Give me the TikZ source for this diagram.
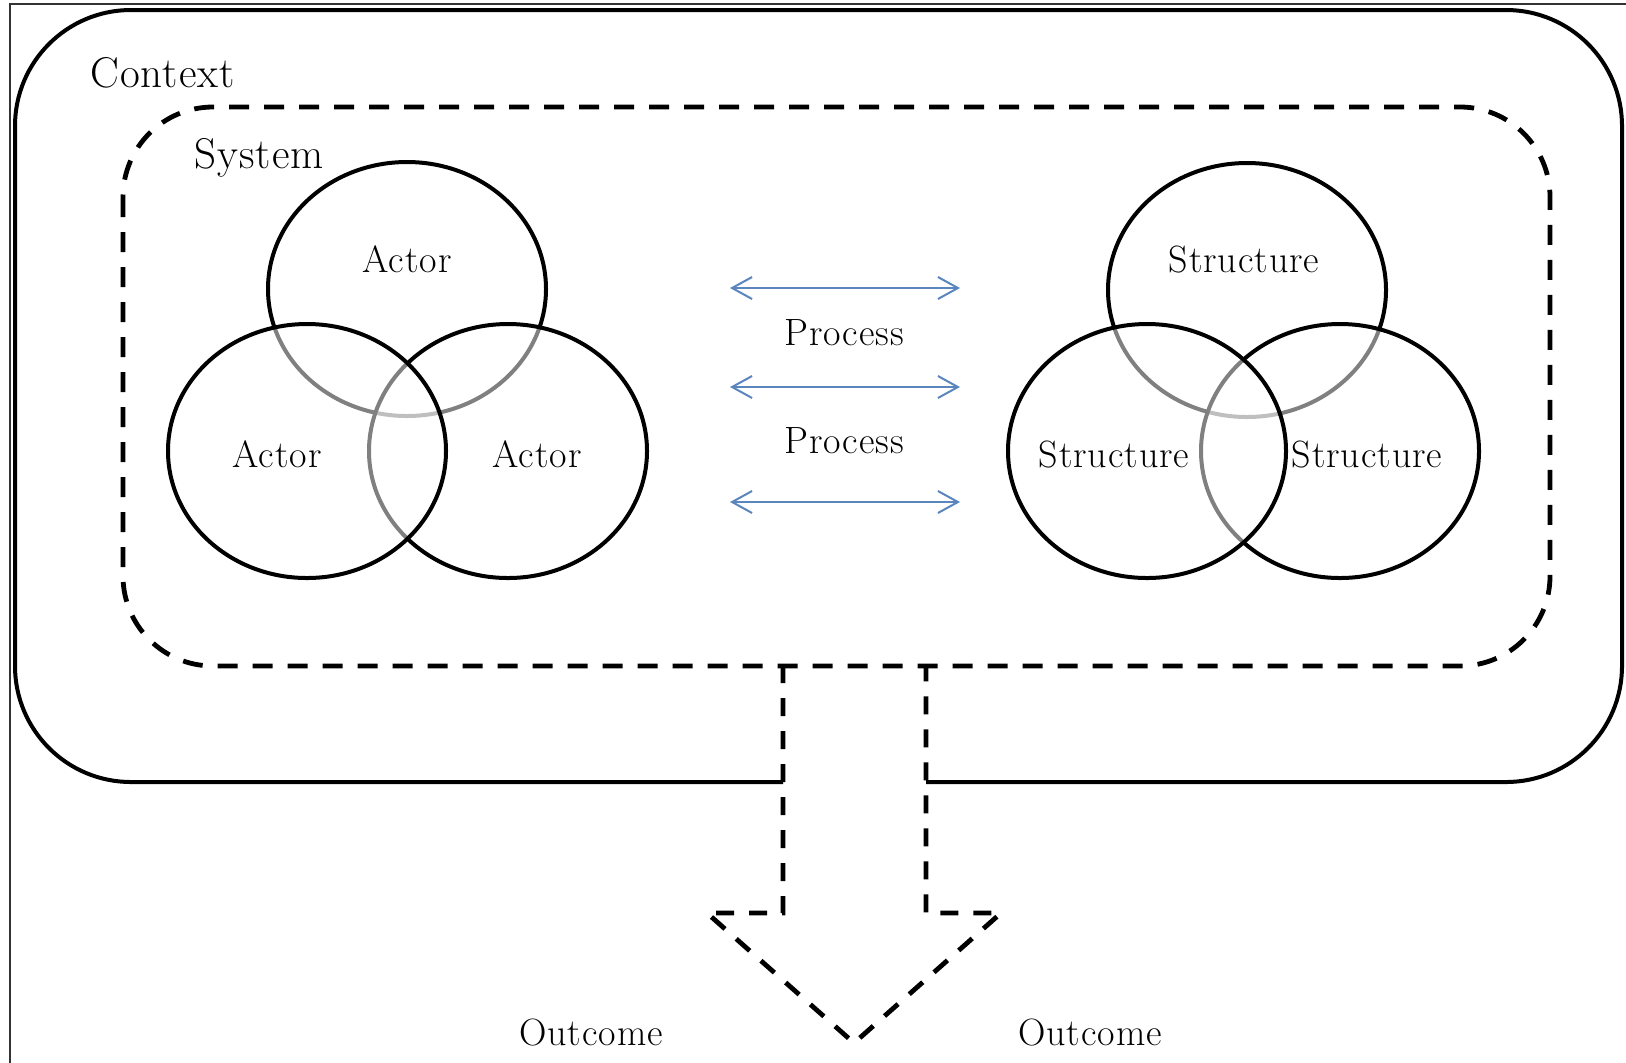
\documentclass[tikz,border=0pt]{standalone}
\usepackage{fontspec}
\setmainfont{Latin Modern Roman}[LetterSpace=2.5]
\usetikzlibrary{shapes.geometric, arrows.meta}
\definecolor{procblue}{HTML}{5B86BD}
\begin{document}
\begin{tikzpicture}[x=0.5pt, y=-0.5pt,
  frame/.style={line width=1pt, draw=black!80},
  ctx/.style={line width=2pt, rounded corners=58pt},
  sysbox/.style={line width=2.4pt, dash pattern=on 10pt off 7.5pt, rounded corners=45pt},
  outarrow/.style={line width=2.4pt, dash pattern=on 9pt off 7.5pt},
  venn/.style={ellipse, draw=black, line width=2pt, fill=white, fill opacity=0.5,
    minimum width=139pt, minimum height=127pt, inner sep=0pt},
  lbl/.style={font=\fontsize{19}{21}\selectfont, anchor=base, inner sep=0pt},
  biglbl/.style={font=\fontsize{21.5}{24}\selectfont, anchor=base west, inner sep=0pt},
  proc/.style={draw=procblue, line width=1pt,
    {Straight Barb[length=10pt, width=11pt]}-{Straight Barb[length=10pt, width=11pt]}}
]
\useasboundingbox (0,0) rectangle (1626,1062);
\clip (0,0) rectangle (1626,1062);
\fill[white] (0,0) rectangle (1626,1062);

% page frame
\draw[frame] (10,4) rectangle (1660,1100);

% context outline, open at the bottom where the outcome arrow leaves
\draw[ctx] (783,782) -- (15,782) -- (15,10) -- (1622,10) -- (1622,782) -- (926,782);
\node[biglbl] (context) at (90,87) {Context};

% system boundary
\draw[sysbox] (123,107) rectangle (1550,666);
\node[biglbl] (system) at (194,168) {System};

% actors
\node[venn] (a1) at (407,289) {};
\node[venn] (a3) at (508,451) {};
\node[venn] (a2) at (307,451) {};
\node[lbl] (a1t) at (407,272) {Actor};
\node[lbl] (a2t) at (277,467) {Actor};
\node[lbl] (a3t) at (537,467) {Actor};

% structures
\node[venn] (s1) at (1247,290) {};
\node[venn] (s3) at (1340,451) {};
\node[venn] (s2) at (1147,451) {};
\node[lbl] (s1t) at (1244,272) {Structure};
\node[lbl] (s2t) at (1114,467) {Structure};
\node[lbl] (s3t) at (1367,467) {Structure};

% processes
\coordinate (p1l) at (730,288); \coordinate (p1r) at (960,288);
\coordinate (p2l) at (730,387); \coordinate (p2r) at (960,387);
\coordinate (p3l) at (730,502); \coordinate (p3r) at (960,502);
\draw[proc] (p1l) -- (p1r);
\draw[proc] (p2l) -- (p2r);
\draw[proc] (p3l) -- (p3r);
\node[lbl] (proc1) at (844,345) {Process};
\node[lbl] (proc2) at (844,453) {Process};

% outcome arrow
\coordinate (sl) at (783,665);
\coordinate (sr) at (926,665);
\coordinate (bl) at (783,913);
\coordinate (br) at (926,913);
\coordinate (wl) at (707,913);
\coordinate (wr) at (1001,913);
\coordinate (tip) at (854,1043);
\draw[outarrow] (sl) -- (bl) -- (wl) -- (tip) -- (wr) -- (br) -- (sr);

\node[lbl] (o1) at (591,1045) {Outcome};
\node[lbl] (o2) at (1090,1045) {Outcome};
\end{tikzpicture}
\end{document}
